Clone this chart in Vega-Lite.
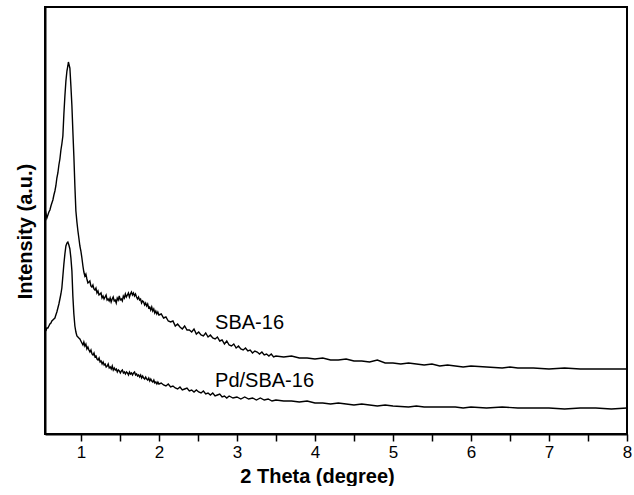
{
  "$schema": "https://vega.github.io/schema/vega-lite/v6.json",
  "width": 582,
  "height": 427,
  "padding": {"left": 15, "top": 7, "right": 0, "bottom": 0},
  "config": {
    "view": {"stroke": "black", "strokeWidth": 2},
    "font": "Liberation Sans",
    "axis": {"domainColor": "black", "tickColor": "black", "labelColor": "black", "titleColor": "black", "grid": false, "labelFont": "Liberation Sans", "titleFont": "Liberation Sans"}
  },
  "datasets": {
    "labels": [
      {"name": "SBA-16", "theta": 2.72, "I": 105},
      {"name": "Pd/SBA-16", "theta": 2.72, "I": 47}
    ],
    "sba": [
      {"theta":0.538,"I":218},{"theta":0.551,"I":221},{"theta":0.564,"I":216},{"theta":0.577,"I":219},{"theta":0.590,"I":222},{"theta":0.603,"I":224},{"theta":0.616,"I":228},{"theta":0.628,"I":231},{"theta":0.641,"I":234},{"theta":0.654,"I":239},{"theta":0.667,"I":243},{"theta":0.679,"I":248},{"theta":0.692,"I":256},{"theta":0.705,"I":261},{"theta":0.718,"I":269},{"theta":0.731,"I":275},{"theta":0.744,"I":284},{"theta":0.756,"I":290},{"theta":0.769,"I":298},{"theta":0.782,"I":320},{"theta":0.795,"I":338},{"theta":0.808,"I":353},{"theta":0.821,"I":363},{"theta":0.833,"I":368},{"theta":0.840,"I":372},{"theta":0.846,"I":370},{"theta":0.859,"I":366},{"theta":0.872,"I":348},{"theta":0.885,"I":328},{"theta":0.897,"I":303},{"theta":0.910,"I":278},{"theta":0.923,"I":248},{"theta":0.936,"I":223},{"theta":0.949,"I":212},{"theta":0.962,"I":203},{"theta":0.974,"I":196},{"theta":0.987,"I":188},
      {"theta":1.000,"I":183},{"theta":1.013,"I":176},{"theta":1.026,"I":168},{"theta":1.038,"I":162},{"theta":1.051,"I":158},{"theta":1.064,"I":160},{"theta":1.077,"I":155},{"theta":1.090,"I":151},{"theta":1.103,"I":152},{"theta":1.115,"I":153},{"theta":1.128,"I":148},{"theta":1.141,"I":147},{"theta":1.154,"I":149},{"theta":1.167,"I":145},{"theta":1.180,"I":144},{"theta":1.193,"I":146},{"theta":1.206,"I":141},{"theta":1.219,"I":143},{"theta":1.232,"I":139},{"theta":1.245,"I":140},{"theta":1.258,"I":141},{"theta":1.271,"I":136},{"theta":1.284,"I":138},{"theta":1.297,"I":135},{"theta":1.310,"I":137},{"theta":1.323,"I":139},{"theta":1.336,"I":134},{"theta":1.349,"I":135},{"theta":1.362,"I":133},{"theta":1.375,"I":136},{"theta":1.388,"I":132},{"theta":1.401,"I":135},{"theta":1.414,"I":137},{"theta":1.427,"I":133},{"theta":1.440,"I":134},{"theta":1.453,"I":131},{"theta":1.466,"I":136},{"theta":1.479,"I":134},{"theta":1.492,"I":138},{"theta":1.505,"I":134},{"theta":1.518,"I":135},{"theta":1.531,"I":133},{"theta":1.544,"I":138},{"theta":1.557,"I":136},{"theta":1.570,"I":140},{"theta":1.583,"I":137},{"theta":1.596,"I":139},{"theta":1.609,"I":141},{"theta":1.622,"I":137},{"theta":1.635,"I":140},{"theta":1.648,"I":142},{"theta":1.661,"I":139},{"theta":1.674,"I":141},{"theta":1.687,"I":138},{"theta":1.700,"I":140},{"theta":1.713,"I":137},{"theta":1.726,"I":135},{"theta":1.739,"I":137},{"theta":1.752,"I":134},{"theta":1.765,"I":135},{"theta":1.778,"I":131},{"theta":1.791,"I":133},{"theta":1.804,"I":132},{"theta":1.817,"I":129},{"theta":1.830,"I":131},{"theta":1.843,"I":128},{"theta":1.856,"I":130},{"theta":1.869,"I":126},{"theta":1.882,"I":127},{"theta":1.895,"I":124},{"theta":1.908,"I":127},{"theta":1.921,"I":123},{"theta":1.934,"I":125},{"theta":1.947,"I":121},{"theta":1.960,"I":123},{"theta":1.973,"I":120},{"theta":1.986,"I":122},{"theta":2.000,"I":119},
      {"theta":2.03,"I":120},{"theta":2.06,"I":116},{"theta":2.09,"I":117},{"theta":2.12,"I":113},{"theta":2.15,"I":112},{"theta":2.18,"I":113},{"theta":2.21,"I":108},{"theta":2.24,"I":110},{"theta":2.27,"I":107},{"theta":2.30,"I":105},{"theta":2.33,"I":108},{"theta":2.36,"I":104},{"theta":2.39,"I":104},{"theta":2.42,"I":102},{"theta":2.45,"I":105},{"theta":2.48,"I":100},{"theta":2.51,"I":102},{"theta":2.54,"I":99},{"theta":2.57,"I":98},{"theta":2.60,"I":101},{"theta":2.63,"I":97},{"theta":2.66,"I":99},{"theta":2.69,"I":96},{"theta":2.72,"I":95},{"theta":2.75,"I":97},{"theta":2.78,"I":93},{"theta":2.81,"I":94},{"theta":2.84,"I":90},{"theta":2.87,"I":93},{"theta":2.90,"I":89},{"theta":2.93,"I":88},{"theta":2.96,"I":90},{"theta":2.99,"I":86},{"theta":3.02,"I":88},{"theta":3.05,"I":85},{"theta":3.08,"I":84},{"theta":3.11,"I":86},{"theta":3.14,"I":83},{"theta":3.17,"I":84},{"theta":3.20,"I":81},{"theta":3.23,"I":83},{"theta":3.26,"I":82},{"theta":3.29,"I":80},{"theta":3.32,"I":82},{"theta":3.35,"I":79},{"theta":3.38,"I":80},{"theta":3.41,"I":78},{"theta":3.44,"I":80},{"theta":3.47,"I":77},{"theta":3.50,"I":78},
      {"theta":3.6,"I":77},{"theta":3.7,"I":78},{"theta":3.8,"I":76},{"theta":3.9,"I":76},{"theta":4.0,"I":75},{"theta":4.1,"I":76},{"theta":4.2,"I":74},{"theta":4.3,"I":74},{"theta":4.4,"I":75},{"theta":4.5,"I":73},{"theta":4.6,"I":73},{"theta":4.7,"I":72},{"theta":4.8,"I":74},{"theta":4.9,"I":71},{"theta":5.0,"I":71},{"theta":5.1,"I":70},{"theta":5.2,"I":71},{"theta":5.3,"I":70},{"theta":5.4,"I":69},{"theta":5.5,"I":70},{"theta":5.6,"I":68},{"theta":5.7,"I":69},{"theta":5.8,"I":68},{"theta":5.9,"I":67},{"theta":6.0,"I":68},{"theta":6.2,"I":67},{"theta":6.4,"I":66},{"theta":6.5,"I":67},{"theta":6.6,"I":66},{"theta":6.8,"I":66},{"theta":7.0,"I":65},{"theta":7.2,"I":66},{"theta":7.4,"I":65},{"theta":7.6,"I":65},{"theta":7.8,"I":65},{"theta":8.0,"I":65}
    ],
    "pd": [
      {"theta":0.551,"I":103},{"theta":0.564,"I":106},{"theta":0.577,"I":106},{"theta":0.590,"I":108},{"theta":0.603,"I":110},{"theta":0.616,"I":111},{"theta":0.628,"I":113},{"theta":0.641,"I":114},{"theta":0.654,"I":115},{"theta":0.667,"I":116},{"theta":0.679,"I":119},{"theta":0.692,"I":122},{"theta":0.705,"I":126},{"theta":0.718,"I":130},{"theta":0.731,"I":135},{"theta":0.744,"I":140},{"theta":0.756,"I":146},{"theta":0.769,"I":158},{"theta":0.782,"I":170},{"theta":0.795,"I":180},{"theta":0.808,"I":188},{"theta":0.821,"I":191},{"theta":0.833,"I":192},{"theta":0.846,"I":189},{"theta":0.859,"I":185},{"theta":0.872,"I":176},{"theta":0.885,"I":163},{"theta":0.897,"I":138},{"theta":0.910,"I":120},{"theta":0.923,"I":108},{"theta":0.936,"I":102},{"theta":0.949,"I":98},{"theta":0.962,"I":97},{"theta":0.974,"I":96},{"theta":0.987,"I":95},
      {"theta":1.000,"I":93},{"theta":1.013,"I":91},{"theta":1.026,"I":89},{"theta":1.038,"I":92},{"theta":1.051,"I":88},{"theta":1.064,"I":90},{"theta":1.077,"I":85},{"theta":1.090,"I":87},{"theta":1.103,"I":84},{"theta":1.116,"I":82},{"theta":1.129,"I":84},{"theta":1.142,"I":80},{"theta":1.155,"I":79},{"theta":1.168,"I":81},{"theta":1.181,"I":77},{"theta":1.194,"I":78},{"theta":1.207,"I":75},{"theta":1.220,"I":74},{"theta":1.233,"I":76},{"theta":1.246,"I":72},{"theta":1.259,"I":73},{"theta":1.272,"I":70},{"theta":1.285,"I":72},{"theta":1.298,"I":69},{"theta":1.311,"I":70},{"theta":1.324,"I":67},{"theta":1.337,"I":68},{"theta":1.350,"I":70},{"theta":1.363,"I":66},{"theta":1.376,"I":67},{"theta":1.389,"I":65},{"theta":1.402,"I":68},{"theta":1.415,"I":64},{"theta":1.428,"I":66},{"theta":1.441,"I":64},{"theta":1.454,"I":65},{"theta":1.467,"I":62},{"theta":1.480,"I":64},{"theta":1.493,"I":63},{"theta":1.506,"I":61},{"theta":1.519,"I":63},{"theta":1.532,"I":64},{"theta":1.545,"I":61},{"theta":1.558,"I":62},{"theta":1.571,"I":60},{"theta":1.584,"I":62},{"theta":1.597,"I":61},{"theta":1.610,"I":59},{"theta":1.623,"I":62},{"theta":1.636,"I":60},{"theta":1.649,"I":61},{"theta":1.662,"I":59},{"theta":1.675,"I":61},{"theta":1.688,"I":62},{"theta":1.701,"I":59},{"theta":1.714,"I":60},{"theta":1.727,"I":58},{"theta":1.740,"I":59},{"theta":1.753,"I":57},{"theta":1.766,"I":59},{"theta":1.779,"I":56},{"theta":1.792,"I":58},{"theta":1.805,"I":56},{"theta":1.818,"I":55},{"theta":1.831,"I":57},{"theta":1.844,"I":55},{"theta":1.857,"I":54},{"theta":1.870,"I":56},{"theta":1.883,"I":53},{"theta":1.896,"I":55},{"theta":1.909,"I":53},{"theta":1.922,"I":52},{"theta":1.935,"I":54},{"theta":1.948,"I":51},{"theta":1.961,"I":52},{"theta":1.974,"I":50},{"theta":1.987,"I":52},{"theta":2.000,"I":50},
      {"theta":2.03,"I":51},{"theta":2.06,"I":49},{"theta":2.09,"I":48},{"theta":2.12,"I":50},{"theta":2.15,"I":47},{"theta":2.18,"I":48},{"theta":2.21,"I":46},{"theta":2.24,"I":45},{"theta":2.27,"I":47},{"theta":2.30,"I":44},{"theta":2.33,"I":45},{"theta":2.36,"I":46},{"theta":2.39,"I":43},{"theta":2.42,"I":44},{"theta":2.45,"I":42},{"theta":2.48,"I":44},{"theta":2.51,"I":42},{"theta":2.54,"I":41},{"theta":2.57,"I":43},{"theta":2.60,"I":40},{"theta":2.63,"I":41},{"theta":2.66,"I":39},{"theta":2.69,"I":41},{"theta":2.72,"I":38},{"theta":2.75,"I":39},{"theta":2.78,"I":40},{"theta":2.81,"I":37},{"theta":2.84,"I":38},{"theta":2.87,"I":36},{"theta":2.90,"I":38},{"theta":2.95,"I":36},{"theta":3.00,"I":37},{"theta":3.05,"I":35},{"theta":3.10,"I":37},{"theta":3.15,"I":35},{"theta":3.20,"I":36},{"theta":3.25,"I":34},{"theta":3.30,"I":36},{"theta":3.35,"I":34},{"theta":3.40,"I":35},{"theta":3.45,"I":33},{"theta":3.50,"I":34},
      {"theta":3.6,"I":33},{"theta":3.7,"I":33},{"theta":3.8,"I":32},{"theta":3.9,"I":33},{"theta":4.0,"I":31},{"theta":4.1,"I":31},{"theta":4.2,"I":30},{"theta":4.3,"I":31},{"theta":4.4,"I":30},{"theta":4.5,"I":29},{"theta":4.6,"I":30},{"theta":4.7,"I":29},{"theta":4.8,"I":28},{"theta":4.9,"I":29},{"theta":5.0,"I":28},{"theta":5.2,"I":27},{"theta":5.3,"I":28},{"theta":5.4,"I":27},{"theta":5.6,"I":27},{"theta":5.8,"I":27},{"theta":5.9,"I":26},{"theta":6.0,"I":27},{"theta":6.2,"I":26},{"theta":6.4,"I":27},{"theta":6.6,"I":26},{"theta":6.8,"I":26},{"theta":7.0,"I":26},{"theta":7.2,"I":25},{"theta":7.4,"I":26},{"theta":7.6,"I":26},{"theta":7.8,"I":25},{"theta":8.0,"I":26}
    ]
  },
  "encoding": {
    "x": {"field": "theta", "type": "quantitative", "scale": {"domain": [0.54, 8], "nice": false, "zero": false},
      "axis": {"values": [1, 1.5, 2, 2.5, 3, 3.5, 4, 4.5, 5, 5.5, 6, 6.5, 7, 7.5, 8], "labelExpr": "datum.value % 1 === 0 ? format(datum.value, 'd') : ''", "tickSize": 7, "tickWidth": 1.5, "domainWidth": 2, "labelFontSize": 17, "labelPadding": 3, "labelFlush": false, "labelOverlap": false, "title": "2 Theta (degree)", "titleFontSize": 20, "titleFontWeight": "bold", "titlePadding": 6, "titleX": 272,
        "encode": {"ticks": {"update": {"y2": {"signal": "datum.value % 1 === 0 ? 7 : 3"}}}}}},
    "y": {"field": "I", "type": "quantitative", "scale": {"domain": [0, 427], "nice": false, "zero": false},
      "axis": {"labels": false, "ticks": false, "domainWidth": 2, "title": "Intensity (a.u.)", "titleFontSize": 20, "titleFontWeight": "bold", "titlePadding": 10, "titleY": 224}}
  },
  "layer": [
    {"data": {"name": "sba"}, "mark": {"type": "line", "stroke": "black", "strokeWidth": 1.4, "clip": true}},
    {"data": {"name": "pd"}, "mark": {"type": "line", "stroke": "black", "strokeWidth": 1.4, "clip": true}},
    {
      "data": {"name": "labels"},
      "mark": {"type": "text", "align": "left", "baseline": "alphabetic", "fontSize": 20, "font": "Liberation Sans", "color": "black"},
      "encoding": {"text": {"field": "name", "type": "nominal"}}
    }
  ]
}
